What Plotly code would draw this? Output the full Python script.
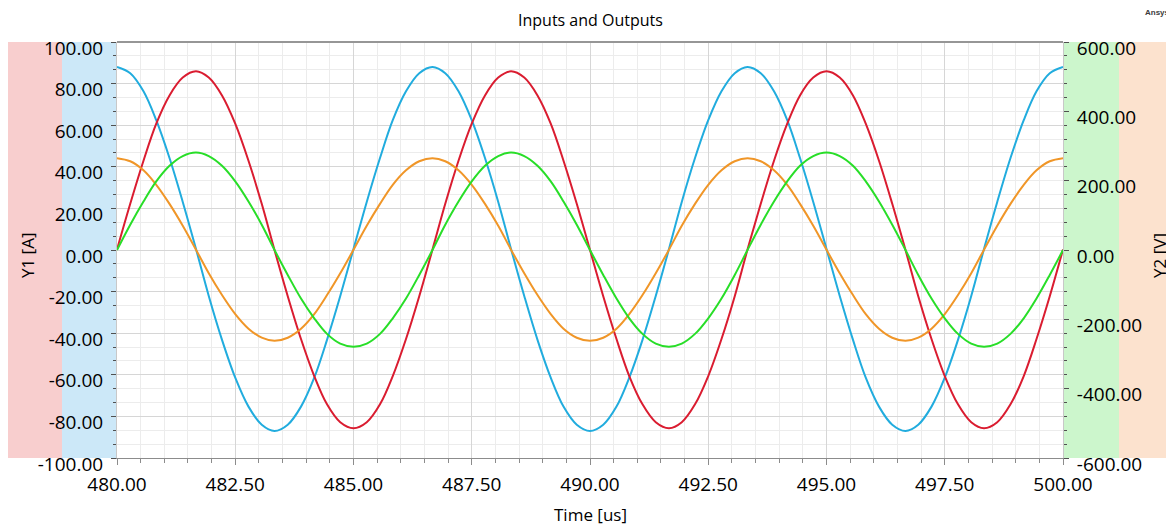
import plotly.graph_objects as go

time_us = [480.00, 480.28, 480.56, 480.83, 481.11, 481.39, 481.67, 481.94, 482.22, 482.50, 482.78, 483.06,
           483.33, 483.61, 483.89, 484.17, 484.44, 484.72, 485.00, 485.28, 485.56, 485.83, 486.11, 486.39,
           486.67, 486.94, 487.22, 487.50, 487.78, 488.06, 488.33, 488.61, 488.89, 489.17, 489.44, 489.72,
           490.00, 490.28, 490.56, 490.83, 491.11, 491.39, 491.67, 491.94, 492.22, 492.50, 492.78, 493.06,
           493.33, 493.61, 493.89, 494.17, 494.44, 494.72, 495.00, 495.28, 495.56, 495.83, 496.11, 496.39,
           496.67, 496.94, 497.22, 497.50, 497.78, 498.06, 498.33, 498.61, 498.89, 499.17, 499.44, 499.72,
           500.00]

# Y1 [A]
blue_A = [88.0, 85.0, 76.3, 62.4, 44.2, 23.1, 0.5, -22.1, -43.2, -61.4, -75.3, -84.0,
          -87.0, -84.0, -75.3, -61.4, -43.2, -22.1, 0.5, 23.1, 44.2, 62.4, 76.3, 85.0,
          88.0, 85.0, 76.3, 62.4, 44.2, 23.1, 0.5, -22.1, -43.2, -61.4, -75.3, -84.0,
          -87.0, -84.0, -75.3, -61.4, -43.2, -22.1, 0.5, 23.1, 44.2, 62.4, 76.3, 85.0,
          88.0, 85.0, 76.3, 62.4, 44.2, 23.1, 0.5, -22.1, -43.2, -61.4, -75.3, -84.0,
          -87.0, -84.0, -75.3, -61.4, -43.2, -22.1, 0.5, 23.1, 44.2, 62.4, 76.3, 85.0,
          88.0]
red_A = [0.2, 22.2, 42.9, 60.7, 74.3, 82.9, 85.9, 82.9, 74.3, 60.7, 42.9, 22.2,
         0.0, -22.2, -42.8, -60.6, -74.2, -82.8, -85.7, -82.8, -74.2, -60.6, -42.8, -22.2,
         0.2, 22.2, 42.9, 60.7, 74.3, 82.9, 85.9, 82.9, 74.3, 60.7, 42.9, 22.2,
         0.0, -22.2, -42.8, -60.6, -74.2, -82.8, -85.7, -82.8, -74.2, -60.6, -42.8, -22.2,
         0.2, 22.2, 42.9, 60.7, 74.3, 82.9, 85.9, 82.9, 74.3, 60.7, 42.9, 22.2,
         0.0, -22.2, -42.8, -60.6, -74.2, -82.8, -85.7, -82.8, -74.2, -60.6, -42.8, -22.2,
         0.2]

# Y2 [V]
orange_V = [265, 256, 230, 188, 133, 70, 1, -67, -130, -185, -227, -253,
            -262, -253, -227, -185, -130, -67, 1, 70, 133, 188, 230, 256,
            265, 256, 230, 188, 133, 70, 1, -67, -130, -185, -227, -253,
            -262, -253, -227, -185, -130, -67, 1, 70, 133, 188, 230, 256,
            265, 256, 230, 188, 133, 70, 1, -67, -130, -185, -227, -253,
            -262, -253, -227, -185, -130, -67, 1, 70, 133, 188, 230, 256,
            265]
green_V = [0, 73, 140, 198, 243, 271, 281, 271, 243, 198, 140, 73,
           0, -72, -140, -197, -242, -270, -279, -270, -242, -197, -140, -72,
           0, 73, 140, 198, 243, 271, 281, 271, 243, 198, 140, 73,
           0, -72, -140, -197, -242, -270, -279, -270, -242, -197, -140, -72,
           0, 73, 140, 198, 243, 271, 281, 271, 243, 198, 140, 73,
           0, -72, -140, -197, -242, -270, -279, -270, -242, -197, -140, -72,
           0]

x_ticks = [480.0, 482.5, 485.0, 487.5, 490.0, 492.5, 495.0, 497.5, 500.0]
y1_ticks = [-100, -80, -60, -40, -20, 0, 20, 40, 60, 80, 100]
y2_ticks = [-600, -400, -200, 0, 200, 400, 600]

FONT = "Open Sans"
MAJOR_GRID = "rgb(214,214,214)"
MINOR_GRID = "rgb(236,236,236)"
AXIS = "rgb(140,140,140)"
TICKC = "rgb(80,80,80)"

fig = go.Figure()
fig.add_trace(go.Scatter(x=time_us, y=blue_A, mode="lines", line=dict(color="rgb(33,172,222)", width=2, shape="spline"), name="blue", yaxis="y"))
fig.add_trace(go.Scatter(x=time_us, y=red_A, mode="lines", line=dict(color="rgb(218,28,48)", width=2, shape="spline"), name="red", yaxis="y"))
fig.add_trace(go.Scatter(x=time_us, y=orange_V, mode="lines", line=dict(color="rgb(240,150,40)", width=2, shape="spline"), name="orange", yaxis="y2"))
fig.add_trace(go.Scatter(x=time_us, y=green_V, mode="lines", line=dict(color="rgb(40,222,40)", width=2, shape="spline"), name="green", yaxis="y2"))

tickfont = dict(family=FONT, size=19, color="black")

fig.update_layout(
    width=1166, height=524,
    margin=dict(l=109, r=111, t=34, b=74, autoexpand=False),
    paper_bgcolor="white", plot_bgcolor="white",
    showlegend=False,
    xaxis=dict(range=[480, 500], tickvals=x_ticks, ticktext=[f"{v:.2f}" for v in x_ticks],
               showgrid=True, gridcolor=MAJOR_GRID, gridwidth=1,
               ticks="outside", ticklen=6, tickcolor=AXIS,
               showline=True, linecolor=AXIS, linewidth=1, mirror=False,
               zeroline=False, tickfont=tickfont, ticklabelstandoff=3, automargin=False,
               minor=dict(dtick=0.5, showgrid=True, gridcolor=MINOR_GRID,
                          ticks="outside", ticklen=4, tickcolor=AXIS)),
    yaxis=dict(range=[-100, 100], tickvals=y1_ticks, ticktext=[f"{v:.2f}" for v in y1_ticks],
               showgrid=True, gridcolor=MAJOR_GRID,
               ticks="outside", ticklen=5, tickcolor=TICKC,
               showline=True, linecolor="rgb(200,200,200)", linewidth=1,
               zeroline=False, tickfont=tickfont, ticklabelshift=6, ticklabelstandoff=4,
               automargin=False,
               minor=dict(dtick=20/3, tick0=0, showgrid=True, gridcolor=MINOR_GRID,
                          ticks="outside", ticklen=3, tickcolor=TICKC)),
    yaxis2=dict(range=[-600, 600], tickvals=y2_ticks, ticktext=[f"{v:.2f}" for v in y2_ticks],
                overlaying="y", side="right", showgrid=False,
                ticks="outside", ticklen=5, tickcolor=TICKC,
                showline=True, linecolor="rgb(200,200,200)", linewidth=1,
                zeroline=False, tickfont=tickfont, ticklabelshift=6, ticklabelstandoff=4,
                automargin=False,
                minor=dict(dtick=40, ticks="outside", ticklen=3, tickcolor=TICKC, showgrid=False)),
)

# coloured axis bands
bands = [(-0.1152, -0.0581, "rgb(248,206,206)"),
         (-0.0581, 0.0, "rgb(204,232,248)"),
         (1.0, 1.0592, "rgb(204,246,204)"),
         (1.0592, 1.1163, "rgb(252,226,206)")]
for x0, x1, c in bands:
    fig.add_shape(type="rect", xref="paper", yref="paper", x0=x0, x1=x1, y0=0, y1=1,
                  fillcolor=c, line=dict(width=0), layer="below")

# top border
fig.add_shape(type="line", xref="paper", yref="paper", x0=0, x1=1, y0=1, y1=1,
              line=dict(color="rgb(150,150,150)", width=2))

fig.add_annotation(text="Inputs and Outputs", xref="paper", yref="paper", x=0.5, y=1.053,
                   xanchor="center", yanchor="middle", showarrow=False,
                   font=dict(family=FONT, size=16, color="black"))
fig.add_annotation(text="Y1 [A]", xref="paper", yref="paper", x=-0.094, y=0.488,
                   xanchor="center", yanchor="middle",
                   textangle=-90, showarrow=False, font=dict(family=FONT, size=17, color="black"))
fig.add_annotation(text="Y2 [V]", xref="paper", yref="paper", x=1.1025, y=0.488,
                   xanchor="center", yanchor="middle",
                   textangle=-90, showarrow=False, font=dict(family=FONT, size=17, color="black"))
fig.add_annotation(text="Time [us]", xref="paper", yref="paper", x=0.5, y=-0.137,
                   xanchor="center", yanchor="middle", showarrow=False,
                   font=dict(family=FONT, size=17, color="black"))
fig.add_annotation(text="<b>Ansys</b>", xref="paper", yref="paper", x=1.1004, y=1.072,
                   xanchor="center", yanchor="middle", showarrow=False,
                   font=dict(family="Arial", size=8, color="rgb(60,60,60)"))

fig.write_html("out.html")
